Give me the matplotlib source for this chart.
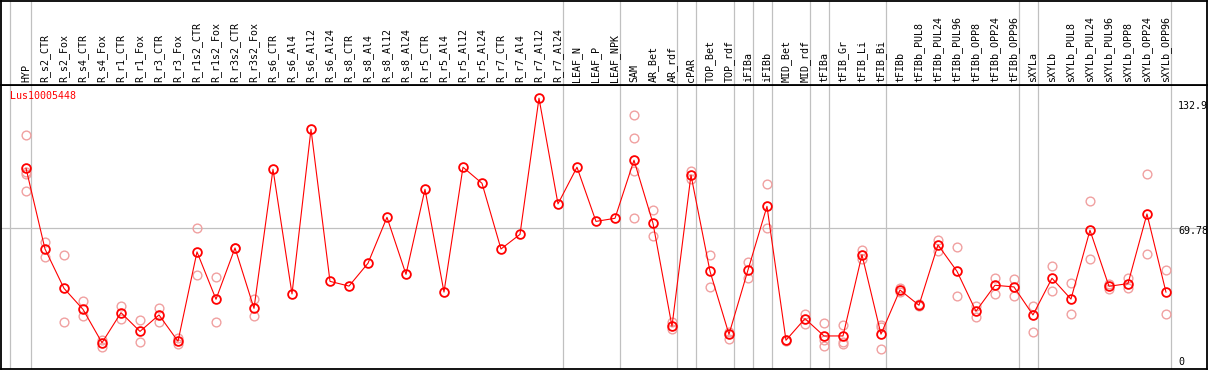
import numpy as np
import matplotlib.pyplot as plt

# sample columns, left to right
samples = ['HYP', 'R_s2_CTR', 'R_s2_Fox', 'R_s4_CTR', 'R_s4_Fox', 'R_r1_CTR',
           'R_r1_Fox', 'R_r3_CTR', 'R_r3_Fox', 'R_r1s2_CTR', 'R_r1s2_Fox',
           'R_r3s2_CTR', 'R_r3s2_Fox', 'R_s6_CTR', 'R_s6_Al4', 'R_s6_Al12',
           'R_s6_Al24', 'R_s8_CTR', 'R_s8_Al4', 'R_s8_Al12', 'R_s8_Al24',
           'R_r5_CTR', 'R_r5_Al4', 'R_r5_Al12', 'R_r5_Al24', 'R_r7_CTR',
           'R_r7_Al4', 'R_r7_Al12', 'R_r7_Al24', 'LEAF_N', 'LEAF_P', 'LEAF_NPK',
           'SAM', 'AR_Bet', 'AR_rdf', 'cPAR', 'TOP_Bet', 'TOP_rdf', 'iFIBa',
           'iFIBb', 'MID_Bet', 'MID_rdf', 'tFIBa', 'tFIB_Gr', 'tFIB_Li',
           'tFIB_Bi', 'tFIBb', 'tFIBb_PUL8', 'tFIBb_PUL24', 'tFIBb_PUL96',
           'tFIBb_OPP8', 'tFIBb_OPP24', 'tFIBb_OPP96', 'sXYLa', 'sXYLb',
           'sXYLb_PUL8', 'sXYLb_PUL24', 'sXYLb_PUL96', 'sXYLb_OPP8',
           'sXYLb_OPP24', 'sXYLb_OPP96']

# mean expression (red line)
means = [98.9, 59.7, 40.6, 30.4, 14.2, 28.8, 19.7, 27.7, 14.9, 58.3, 35.3,
         60.2, 30.9, 98.4, 37.9, 117.8, 44.0, 41.7, 52.8, 75.1, 47.4,
         88.7, 38.8, 99.4, 91.6, 59.7, 66.8, 132.9, 81.6, 99.4, 73.1, 74.6,
         102.8, 72.2, 22.2, 95.6, 48.9, 18.3, 49.5, 80.4, 15.4, 25.9,
         17.5, 17.5, 56.9, 18.4, 39.8, 32.4, 61.7, 48.9, 29.5, 42.1, 41.3,
         27.7, 45.5, 35.4, 68.8, 41.6, 42.9, 76.7, 38.8]

# replicate values (pink circles)
reps = [[115.0, 96.9, 96.0, 87.9], [63.3, 56.0], [56.6, 24.1], [34.5, 27.2],
        [15.4, 12.3], [32.0, 25.6], [25.1, 14.6], [30.9, 24.1], [16.4, 13.8],
        [69.7, 46.9], [46.1, 24.1], [60.0, 60.4], [35.3, 27.0],
        [], [], [], [], [], [], [], [], [], [], [], [], [], [], [], [], [], [], [],
        [124.8, 113.4, 97.7, 74.6], [78.5, 66.0], [24.1, 20.7], [97.7, 93.5],
        [56.6, 41.1], [19.6, 16.0], [53.4, 45.5], [91.3, 69.7], [15.2, 15.6],
        [28.3, 23.5], [23.8, 15.5, 12.5], [22.8, 14.7, 13.4], [59.2, 54.8],
        [22.8, 21.7, 11.0], [40.8, 38.8], [32.0, 32.8], [64.1, 58.7],
        [60.5, 36.7], [32.2, 26.8], [45.5, 38.0], [45.0, 36.7], [32.0, 19.3],
        [51.3, 39.2], [43.0, 28.0], [82.9, 54.7], [42.7, 40.4], [45.5, 40.9],
        [96.0, 57.1], [49.4, 28.0]]

# group separators (column index positions)
seps = [-0.83, 0.25, 28.25, 31.25, 34.25, 35.25, 37.25, 38.25, 39.25, 41.25,
        42.25, 45.25, 52.25, 53.25, 60.25]

gene = 'Lus10005448'
ytop = 132.9
ymid = 69.78

W, H = 1209, 370
fig = plt.figure(figsize=(W / 100, H / 100), dpi=100)
ax = fig.add_axes([1 / W, 1 / H, 1206 / W, 284 / H])
hd = fig.add_axes([1 / W, 285 / H, 1206 / W, 84 / H])

mono = 'DejaVu Sans Mono'
grid_c = '#c0c0c0'
xlim = (-1.316, 62.16)

for a in (ax, hd):
    a.set_xlim(*xlim)
    a.set_xticks([])
    a.set_yticks([])
    for s in a.spines.values():
        s.set_linewidth(1.3)
        s.set_color('black')
    for x in seps:
        a.axvline(x, color=grid_c, lw=0.9, zorder=0)

hd.set_ylim(0, 1)
ax.set_ylim(1.46, 139.3)
ax.axhline(ymid, color=grid_c, lw=0.9, zorder=0)

x = np.arange(len(samples))
for i, r in enumerate(reps):
    if r:
        ax.plot([i] * len(r), r, 'o', ms=6.3, mfc='none', mec='#f0a0a0',
                mew=1.0, zorder=2)
ax.plot(x, means, '-', color='red', lw=0.8, zorder=3)
ax.plot(x, means, 'o', ms=6.3, mfc='none', mec='red', mew=1.3, zorder=4)

for i, s in enumerate(samples):
    hd.text(i, 0.03, s, rotation=90, ha='center', va='bottom',
            fontsize=7.2, family=mono)

ax.text(9 / 1206, 0.979, gene, transform=ax.transAxes, color='red',
        fontsize=7.2, family=mono, ha='left', va='top')

tr = ax.get_yaxis_transform()
ax.annotate(f'{ytop}', xy=(0.976, ytop), xycoords=tr, xytext=(0, -2),
            textcoords='offset points', va='top', ha='left',
            fontsize=7.2, family=mono)
ax.annotate(f'{ymid}', xy=(0.976, ymid), xycoords=tr, xytext=(0, 1.5),
            textcoords='offset points', va='top', ha='left',
            fontsize=7.2, family=mono)
ax.annotate('0', xy=(0.976, 1.46), xycoords=tr, xytext=(0, 1.2),
            textcoords='offset points', va='bottom', ha='left',
            fontsize=7.2, family=mono)

fig.savefig('out.png', dpi=100)
